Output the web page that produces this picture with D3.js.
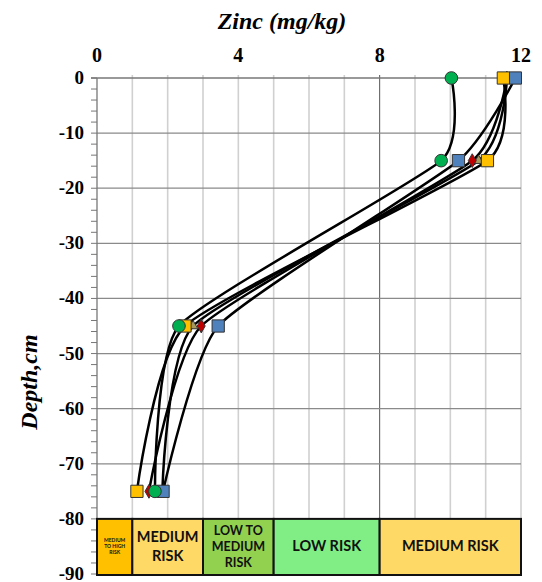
<!DOCTYPE html>
<html>
<head>
<meta charset="utf-8">
<script src="https://cdn.jsdelivr.net/npm/d3@7"></script>
<style>
  body { margin: 0; background: #fff; }
  svg { display: block; }
</style>
</head>
<body>
<svg id="chart" width="542" height="582"></svg>
<script>
// depths (cm) at which zinc was sampled
var depths = [0, -15, -45, -75];

// zinc (mg/kg) per profile, one value per depth
var zincTriangle = [11.6, 10.8, 2.72, 1.85];
var zincDiamond  = [11.6, 10.62, 2.95, 1.47];
var zincBlue     = [11.84, 10.23, 3.43, 1.87];
var zincYellow   = [11.5, 11.05, 2.49, 1.13];
var zincGreen    = [10.03, 9.74, 2.32, 1.64];

// risk bands along the x axis
var bandStarts = [0, 1, 3, 5, 8];
var bandEnds   = [1, 3, 5, 8, 12];
var bandLabels = [['MEDIUM', 'TO HIGH', 'RISK'], ['MEDIUM', 'RISK'], ['LOW TO', 'MEDIUM', 'RISK'], ['LOW RISK'], ['MEDIUM RISK']];
var bandColors = ['#FFC000', '#FFD966', '#92D050', '#80EE84', '#FFD966'];

var xTicks = [0, 4, 8, 12];
var yTicks = [0, -10, -20, -30, -40, -50, -60, -70, -80, -90];

var SERIF = 'Liberation Serif, Tinos, Times New Roman, Times, DejaVu Serif, Noto Serif, serif';

var svg = d3.select('#chart');
var x = d3.scaleLinear().domain([0, 12]).range([97, 521]);
var y = d3.scaleLinear().domain([0, -90]).range([78, 574]);

// vertical gridlines, one per unit
svg.append('g').selectAll('line')
    .data(d3.range(1, 13))
    .enter().append('line')
    .attr('x1', function(d) { return x(d); }).attr('x2', function(d) { return x(d); })
    .attr('y1', y(0) - 3).attr('y2', y(-90))
    .attr('stroke', function(d) { return d === 8 ? '#555' : '#d0d0d0'; })
    .attr('stroke-width', function(d) { return d === 8 ? 1 : 1.6; });

// horizontal gridlines
svg.append('g').selectAll('line')
    .data(d3.range(-10, -80, -10))
    .enter().append('line')
    .attr('x1', x(0)).attr('x2', x(12))
    .attr('y1', function(d) { return y(d); }).attr('y2', function(d) { return y(d); })
    .attr('stroke', '#8a8a8a').attr('stroke-width', 1.3);

// top axis line (depth 0)
svg.append('line')
    .attr('x1', x(0) - 6).attr('x2', x(12))
    .attr('y1', y(0)).attr('y2', y(0))
    .attr('stroke', '#777').attr('stroke-width', 1.3);

// left axis with minor ticks
svg.append('line')
    .attr('x1', x(0)).attr('x2', x(0))
    .attr('y1', y(0)).attr('y2', y(-90))
    .attr('stroke', '#777').attr('stroke-width', 1.3);
svg.append('g').selectAll('line')
    .data(d3.range(0, -91, -2))
    .enter().append('line')
    .attr('x1', x(0) - 6).attr('x2', x(0))
    .attr('y1', function(d) { return y(d); }).attr('y2', function(d) { return y(d); })
    .attr('stroke', '#777').attr('stroke-width', 1);

// tick labels
svg.append('g').selectAll('text')
    .data(xTicks)
    .enter().append('text')
    .attr('font-family', SERIF).attr('font-weight', 'bold').attr('font-size', 20)
    .attr('x', function(d) { return x(d); })
    .attr('y', 62)
    .attr('text-anchor', 'middle')
    .text(function(d) { return d; });

svg.append('g').selectAll('text')
    .data(yTicks)
    .enter().append('text')
    .attr('font-family', SERIF).attr('font-weight', 'bold').attr('font-size', 19)
    .attr('x', 84)
    .attr('y', function(d) { return y(d) + 6; })
    .attr('text-anchor', 'end')
    .text(function(d) { return d; });

// axis titles
svg.append('text')
    .attr('font-family', SERIF).attr('font-weight', 'bold').attr('font-style', 'italic').attr('font-size', 24)
    .attr('x', 282).attr('y', 29)
    .attr('text-anchor', 'middle')
    .text('Zinc (mg/kg)');

svg.append('text')
    .attr('font-family', SERIF).attr('font-weight', 'bold').attr('font-style', 'italic').attr('font-size', 24)
    .attr('transform', 'translate(37,382) rotate(-90)')
    .attr('text-anchor', 'middle')
    .text('Depth,cm');

// risk bands
var bands = svg.append('g').selectAll('g')
    .data(bandStarts)
    .enter().append('g');
bands.append('rect')
    .attr('x', function(d, i) { return x(d); })
    .attr('y', y(-80))
    .attr('width', function(d, i) { return x(bandEnds[i]) - x(d); })
    .attr('height', y(-90) - y(-80) + 1)
    .attr('fill', function(d, i) { return bandColors[i]; })
    .attr('stroke', '#111').attr('stroke-width', 2);
bands.append('text')
    .attr('text-anchor', 'middle')
    .attr('font-family', 'Lato, Open Sans, sans-serif').attr('font-weight', 'bold')
    .attr('font-size', function(d, i) { return i === 0 ? 5 : (i === 2 ? 12.5 : 14.5); })
    .attr('fill', '#111')
    .each(function(d, i) {
        var lines = bandLabels[i];
        var lh = i === 0 ? 6 : (i === 2 ? 16 : 19);
        var cx = (x(d) + x(bandEnds[i])) / 2;
        var cy = (y(-80) + y(-90)) / 2;
        var t = d3.select(this);
        lines.forEach(function(s, k) {
            t.append('tspan')
                .attr('x', cx)
                .attr('y', cy + (k - (lines.length - 1) / 2) * lh + (i === 0 ? 2 : 5))
                .text(s);
        });
    });

// series
var series = [
    { values: zincTriangle, shape: 'triangle', color: '#A8995A', size: 40 },
    { values: zincDiamond, shape: 'diamond', color: '#C00000', size: 55 },
    { values: zincBlue, shape: 'square', color: '#4F81BD', size: 150 },
    { values: zincYellow, shape: 'square', color: '#FFC000', size: 150 },
    { values: zincGreen, shape: 'circle', color: '#00B050', size: 125 }
];
var shapes = {
    triangle: d3.symbolTriangle,
    diamond: d3.symbolDiamond,
    square: d3.symbolSquare,
    circle: d3.symbolCircle
};

// smoothed line, short handles so long segments stay nearly straight
var line = d3.line()
    .x(function(d) { return x(d[0]); })
    .y(function(d) { return y(d[1]); })
    .curve(d3.curveCardinal.tension(0.5));

svg.append('g').selectAll('path')
    .data(series)
    .enter().append('path')
    .attr('d', function(s) { return line(s.values.map(function(v, i) { return [v, depths[i]]; })); })
    .attr('fill', 'none')
    .attr('stroke', '#000')
    .attr('stroke-width', 2.5);

var markers = svg.append('g').selectAll('g')
    .data(series)
    .enter().append('g');
markers.selectAll('path')
    .data(function(s) { return s.values.map(function(v, i) { return { v: v, d: depths[i], s: s }; }); })
    .enter().append('path')
    .attr('transform', function(p) { return 'translate(' + x(p.v) + ',' + y(p.d) + ')'; })
    .attr('d', function(p) { return d3.symbol().type(shapes[p.s.shape]).size(p.s.size)(); })
    .attr('fill', function(p) { return p.s.color; })
    .attr('stroke', '#333')
    .attr('stroke-width', 1);
</script>
</body>
</html>
